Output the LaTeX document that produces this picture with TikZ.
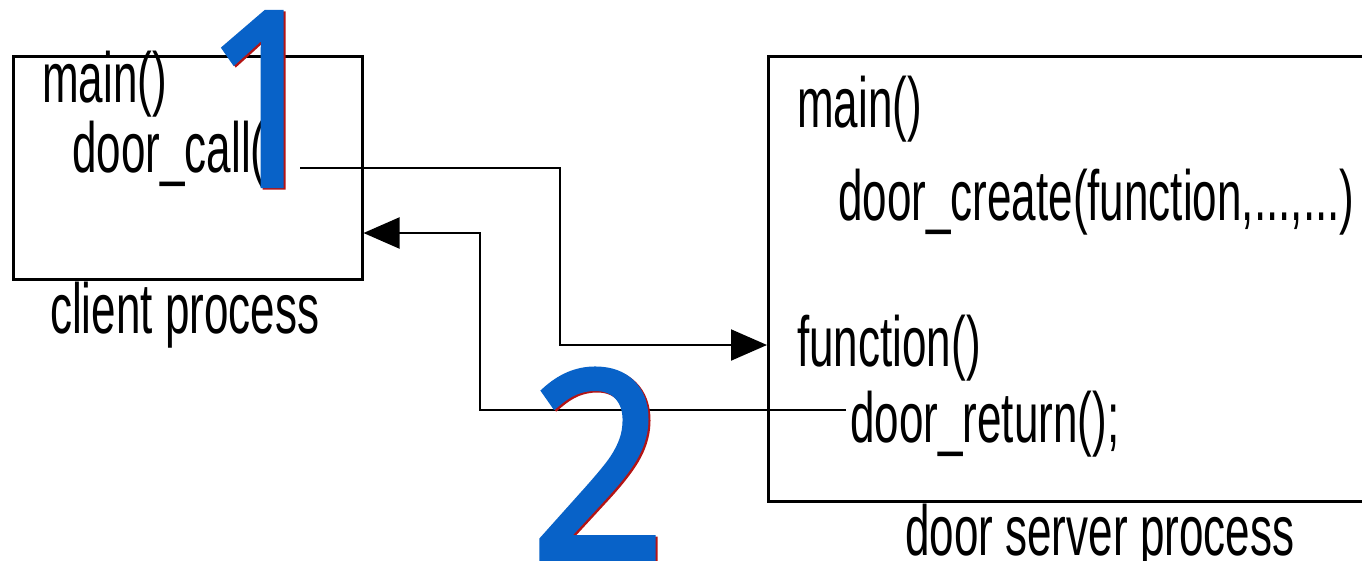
\documentclass[tikz,border=0pt]{standalone}
\usepackage{fontspec}
\setmainfont{Liberation Sans}
\newfontfamily\narrowfont[FakeStretch=0.62]{Liberation Sans}
\newfontfamily\digitfont[FakeStretch=0.9,FakeBold=2.5]{Open Sans}
\usetikzlibrary{arrows.meta}
\definecolor{numblue}{RGB}{8,98,200}
\definecolor{numred}{RGB}{180,20,20}
\begin{document}
\begin{tikzpicture}[x=1pt,y=-1pt,
  lbl/.style={anchor=base west, inner sep=0pt, font=\narrowfont\fontsize{71}{80}\selectfont},
  box/.style={draw, line width=2.5pt, inner sep=0pt, anchor=north west},
  conn/.style={line width=2pt},
  tipped/.style={-{Triangle[length=36pt,width=31pt]}},
  digit/.style={anchor=base, inner sep=0pt, text=numblue},
  digitshadow/.style={anchor=base, inner sep=0pt, text=numred}]
\path[use as bounding box] (0,0) rectangle (1362,560);
% boxes
\node[box, minimum width=349pt, minimum height=223pt] (client) at (12,55) {};
\node[box, minimum width=620pt, minimum height=445pt] (server) at (767,55) {};
% client texts
\node[lbl] (cmain) at (42,102) {main()};
\node[lbl] (ccall) at (72,172) {door\_call()};
\node[lbl] (clabel) at (50,333) {client process};
% server texts
\node[lbl] (smain) at (797,127) {main()};
\node[lbl] (screate) at (838,220) {door\_create(function,...,...)};
\node[lbl] (sfunc) at (797,366) {function()};
\node[lbl] (sret) at (850,442) {door\_return();};
\node[lbl] (slabel) at (905,555) {door server process};
% connectors
\coordinate (callout) at (300,168);
\coordinate (retout) at (846,410);
\draw[conn,tipped] (callout) -- (560,168) -- (560,345) -- (server.west |- 0,345);
\draw[conn,tipped] (retout) -- (480,410) -- (480,233) -- (client.east |- 0,233);
% big digits
\node[digitshadow, font=\digitfont\fontsize{241}{250}\selectfont] (oneshadow) at (269,186.5) {1};
\node[digit, font=\digitfont\fontsize{241}{250}\selectfont] (one) at (267,185) {1};
\node[digitshadow, font=\digitfont\fontsize{260}{270}\selectfont] (twoshadow) at (600,559.5) {2};
\node[digit, font=\digitfont\fontsize{260}{270}\selectfont] (two) at (598,558) {2};
\end{tikzpicture}
\end{document}
